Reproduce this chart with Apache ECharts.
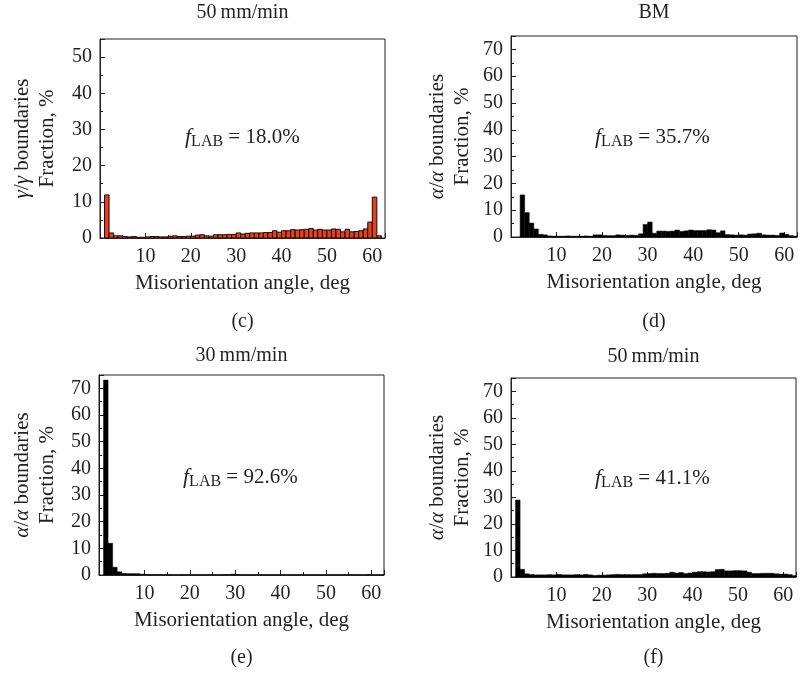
<!DOCTYPE html>
<html>
<head>
<meta charset="utf-8">
<script src="https://cdn.jsdelivr.net/npm/echarts@6/dist/echarts.min.js"></script>
<style>
  html, body { margin: 0; padding: 0; background: #fff; }
  #chart { width: 803px; height: 678px; }
</style>
</head>
<body>
<div id="chart"></div>
<script>
  // misorientation histograms, 1 deg bins; each array starts at its first bin edge
  var startC = 1;
  var valuesC = [11.9, 1.4, 0.6, 0.6, 0.4, 0.3, 0.4, 0.2, 0.2, 0.3,
    0.4, 0.4, 0.3, 0.3, 0.5, 0.6, 0.4, 0.4, 0.5, 0.5,
    0.8, 0.9, 0.6, 0.5, 0.9, 0.9, 0.9, 1.0, 1.0, 1.4,
    1.1, 1.3, 1.4, 1.4, 1.4, 1.5, 1.5, 2.0, 1.6, 2.0,
    2.0, 2.3, 2.2, 2.3, 2.4, 2.6, 2.2, 2.4, 2.2, 2.2,
    2.5, 2.4, 1.7, 2.4, 1.7, 1.8, 2.0, 2.5, 4.4, 11.3,
    0.6];
  var startD = 2;
  var valuesD = [15.7, 9.1, 5.2, 3.0, 1.0, 0.8, 0.4, 0.3, 0.3, 0.3,
    0.4, 0.3, 0.3, 0.3, 0.4, 0.3, 0.8, 0.8, 0.6, 0.5,
    0.5, 0.8, 0.7, 0.6, 0.7, 0.6, 1.2, 4.7, 5.6, 1.4,
    2.2, 2.2, 2.1, 2.2, 2.6, 2.1, 2.3, 2.6, 2.4, 2.4,
    2.4, 2.7, 2.6, 1.6, 2.3, 0.9, 0.8, 0.7, 0.8, 0.7,
    1.1, 1.2, 1.4, 0.8, 0.7, 0.7, 0.6, 1.5, 1.0, 0.5,
    0.3];
  var startE = 1;
  var valuesE = [73.1, 11.9, 2.9, 1.2, 0.6, 0.5, 0.5, 0.5, 0.3, 0.2,
    0.15, 0.15, 0.1, 0.1, 0.15, 0.1, 0.1, 0.15, 0.1, 0.1,
    0.1, 0.1, 0.1, 0.1, 0.1, 0.1, 0.15, 0.15, 0.3, 0.2,
    0.1, 0.1, 0.1, 0.1, 0.1, 0.1, 0.1, 0.1, 0.1, 0.1,
    0.1, 0.1, 0.1, 0.1, 0.1, 0.1, 0.1, 0.1, 0.1, 0.1,
    0.1, 0.1, 0.1, 0.1, 0.1, 0.1, 0.1, 0.1, 0.15, 0.1,
    0.1, 0.1];
  var startF = 1;
  var valuesF = [29.0, 2.9, 1.2, 0.9, 0.8, 0.8, 0.8, 0.9, 0.8, 1.0,
    0.8, 0.8, 0.8, 0.9, 0.8, 1.0, 0.8, 0.6, 0.7, 0.7,
    0.8, 0.9, 1.0, 0.9, 0.9, 0.9, 0.9, 0.9, 1.2, 1.3,
    1.4, 1.3, 1.3, 1.4, 1.8, 1.5, 1.7, 1.3, 1.5, 1.8,
    2.0, 2.0, 1.9, 2.0, 2.8, 2.9, 2.3, 2.3, 2.4, 2.4,
    2.3, 1.8, 1.3, 1.3, 1.4, 1.4, 1.4, 1.2, 1.1, 1.1,
    0.9, 0.5];

  var titles = ['50\u2009mm/min', 'BM', '30\u2009mm/min', '50\u2009mm/min'];
  var panelTags = ['(c)', '(d)', '(e)', '(f)'];
  var yMax = [55, 75, 75, 75];
  var fLab = ['18.0%', '35.7%', '92.6%', '41.1%'];

  var font = 'Liberation Serif, Times New Roman, serif';
  var ink = '#231f20';

  function toPairs(start, vals) {
    return vals.map(function (v, i) { return [start + i, v]; });
  }

  function renderBar(params, api) {
    var x0 = api.value(0);
    var p0 = api.coord([x0, api.value(1)]);
    var p1 = api.coord([x0 + 1, 0]);
    return {
      type: 'rect',
      shape: { x: p0[0], y: p0[1], width: p1[0] - p0[0], height: p1[1] - p0[1] },
      style: api.style()
    };
  }

  var grids = [
    { left: 100, top: 39, width: 285, height: 199 },
    { left: 511, top: 36, width: 286, height: 201 },
    { left: 99, top: 375, width: 285, height: 200 },
    { left: 511, top: 378, width: 285, height: 199 }
  ];
  // text anchor spots per panel
  var titleY = [13, 13, 356, 357];
  var tagY = [322, 322, 658, 658];
  var yNameX = [[22, 47], [437, 462], [22, 47], [437, 462]];
  var fLabPos = [[185, 137], [595, 137], [183, 477], [595, 478]];

  var chart = echarts.init(document.getElementById('chart'));

  var xAxes = [], yAxes = [], series = [], graphics = [];
  var data = [toPairs(startC, valuesC), toPairs(startD, valuesD), toPairs(startE, valuesE), toPairs(startF, valuesF)];

  grids.forEach(function (g, i) {
    g.show = true;
    g.borderColor = ink;
    g.borderWidth = 1;
    g.backgroundColor = 'transparent';

    xAxes.push({
      type: 'value', gridIndex: i, min: 0, max: 62.8, interval: 10,
      name: 'Misorientation angle, deg', nameLocation: 'middle', nameGap: 35,
      nameTextStyle: { fontFamily: font, fontSize: 21, color: ink },
      axisLine: { lineStyle: { color: ink, width: 1 } },
      axisTick: { inside: true, length: 5, lineStyle: { color: ink } },
      minorTick: { show: true, splitNumber: 2, length: 3, lineStyle: { color: ink } },
      splitLine: { show: false },
      axisLabel: {
        fontFamily: font, fontSize: 20, color: ink, margin: 9,
        showMaxLabel: false,
        formatter: function (v) { return v === 0 ? '' : v; }
      }
    });
    yAxes.push({
      type: 'value', gridIndex: i, min: 0, max: yMax[i], interval: 10,
      axisLine: { show: true, lineStyle: { color: ink, width: 1 } },
      axisTick: { show: true, inside: true, length: 5, lineStyle: { color: ink } },
      minorTick: { show: true, splitNumber: 2, length: 3, lineStyle: { color: ink } },
      splitLine: { show: false },
      axisLabel: { fontFamily: font, fontSize: 20, color: ink, margin: 8, showMaxLabel: false }
    });
    series.push({
      type: 'custom', xAxisIndex: i, yAxisIndex: i,
      renderItem: renderBar, clip: true,
      itemStyle: i === 0
        ? { color: '#e5411f', borderColor: '#1a0a05', borderWidth: 1 }
        : { color: '#000', borderColor: '#000', borderWidth: 0.5 },
      encode: { x: 0, y: 1 },
      data: data[i]
    });

    var cx = g.left + g.width / 2;
    var cy = g.top + g.height / 2;
    graphics.push({
      type: 'text', x: cx, y: titleY[i],
      style: { text: titles[i], font: '20px ' + font, fill: ink, textAlign: 'center', textVerticalAlign: 'middle' }
    });
    graphics.push({
      type: 'text', x: cx, y: tagY[i],
      style: { text: panelTags[i], font: '20px ' + font, fill: ink, textAlign: 'center', textVerticalAlign: 'middle' }
    });
    var greek = i === 0 ? '\u03b3' : '\u03b1';
    graphics.push({
      type: 'text', x: yNameX[i][0], y: cy, rotation: Math.PI / 2,
      style: {
        text: '{i|' + greek + '}/{i|' + greek + '} boundaries',
        font: '21px ' + font, fill: ink, textAlign: 'center', textVerticalAlign: 'middle',
        rich: { i: { fontFamily: font, fontSize: 21, fontStyle: 'italic', fill: ink } }
      }
    });
    graphics.push({
      type: 'text', x: yNameX[i][1], y: cy, rotation: Math.PI / 2,
      style: { text: 'Fraction, %', font: '21px ' + font, fill: ink, textAlign: 'center', textVerticalAlign: 'middle' }
    });
    graphics.push({
      type: 'text', x: fLabPos[i][0], y: fLabPos[i][1],
      style: {
        text: '{f|f}{s|LAB}{n| = ' + fLab[i] + '}',
        fill: ink, textAlign: 'left', textVerticalAlign: 'middle',
        rich: {
          f: { fontFamily: font, fontSize: 22, fontStyle: 'italic', fill: ink },
          s: { fontFamily: font, fontSize: 16, fill: ink, padding: [9, 0, 0, 0] },
          n: { fontFamily: font, fontSize: 21, fill: ink }
        }
      }
    });
  });

  var option = {
    animation: false,
    backgroundColor: '#fff',
    grid: grids,
    xAxis: xAxes,
    yAxis: yAxes,
    series: series,
    graphic: graphics
  };

  chart.setOption(option);
</script>
</body>
</html>
